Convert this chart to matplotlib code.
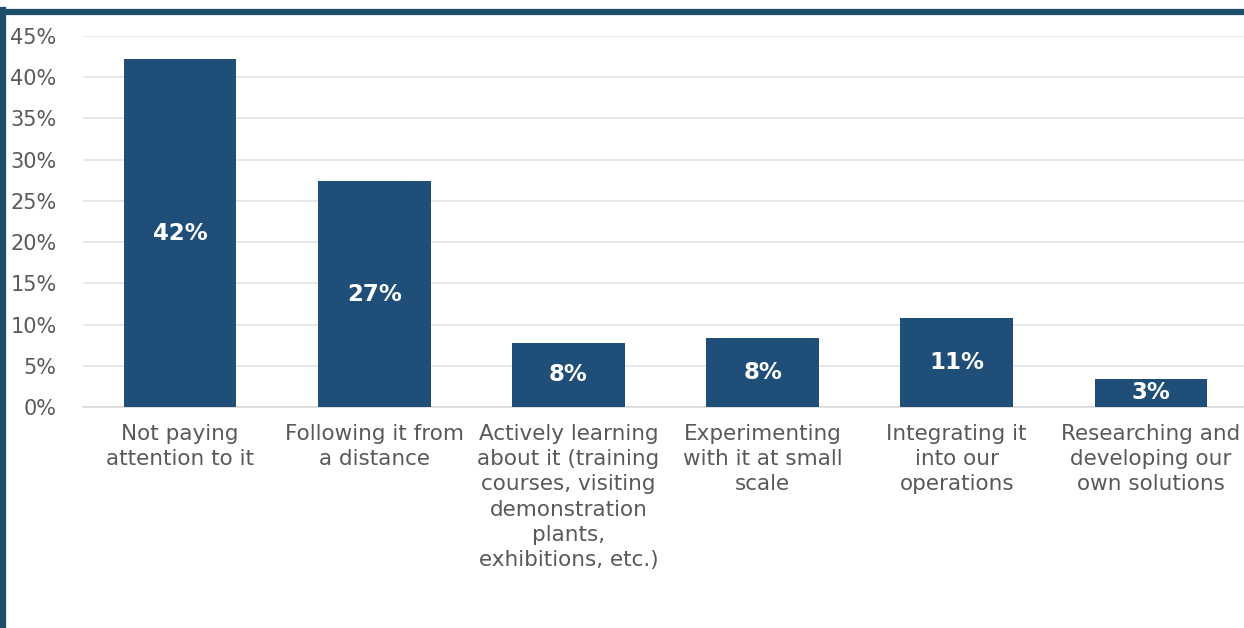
import numpy as np
import matplotlib.pyplot as plt
from matplotlib.lines import Line2D

plt.rcParams["font.family"] = ["DejaVu Sans"]

navy = "#1F4E79"
grey_text = "#595959"

categories = [
    "Not paying\nattention to it",
    "Following it from\na distance",
    "Actively learning\nabout it (training\ncourses, visiting\ndemonstration\nplants,\nexhibitions, etc.)",
    "Experimenting\nwith it at small\nscale",
    "Integrating it\ninto our\noperations",
    "Researching and\ndeveloping our\nown solutions",
]
shares = [42.2, 27.4, 7.8, 8.4, 10.8, 3.4]
yticks = list(range(0, 50, 5))

fig = plt.figure(figsize=(12.44, 6.28), dpi=100)
ax = fig.add_axes([83 / 1244, 1 - 407 / 628, 1165 / 1244, 371 / 628])

x = np.arange(len(categories))
bars = ax.bar(x, shares, width=0.58, color=navy, zorder=3)

for b, v in zip(bars, shares):
    ax.text(b.get_x() + b.get_width() / 2, v / 2, f"{v:.0f}%",
            ha="center", va="center", color="white", fontsize=16.5,
            fontweight="bold", zorder=4)

ax.set_xlim(-0.5, len(categories) - 0.5)
ax.set_ylim(0, 45)
ax.set_yticks(yticks, [f"{t}%" for t in yticks])
ax.set_xticks(x, categories)
for lab in ax.get_xticklabels():
    lab.set_linespacing(1.33)
ax.yaxis.grid(True, color="#E3E3E3", linewidth=1.2, zorder=0)
ax.tick_params(axis="y", length=0, pad=19, labelsize=15, labelcolor=grey_text)
ax.tick_params(axis="x", length=0, pad=12, labelsize=15.5, labelcolor=grey_text)
for s in ["top", "right", "left"]:
    ax.spines[s].set_visible(False)
ax.spines["bottom"].set_color("#D9D9D9")
ax.spines["bottom"].set_linewidth(1.2)

# frame lines of the surrounding slide (top rule and left border)
fig.add_artist(Line2D([0, 1], [1 - 12 / 628] * 2, color="#1B4F6B", linewidth=4.5,
                      transform=fig.transFigure))
fig.add_artist(Line2D([3 / 1244] * 2, [0, 1 - 10 / 628], color="#1B4F6B", linewidth=4.5,
                      transform=fig.transFigure))

fig.savefig("out.png", dpi=100)
